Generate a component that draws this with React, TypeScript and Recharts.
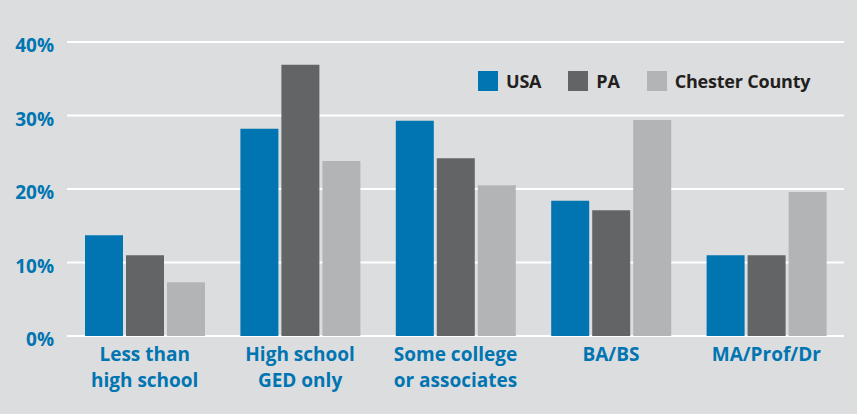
import React from 'react';
import { BarChart, Bar, XAxis, YAxis, CartesianGrid } from 'recharts';

// education level shares, percent
const categories = [
  'Less than\nhigh school',
  'High school\nGED only',
  'Some college\nor associates',
  'BA/BS',
  'MA/Prof/Dr',
];
const usa = [13.7, 28.2, 29.3, 18.4, 11.0];
const pa = [11.0, 36.9, 24.2, 17.1, 11.0];
const chester = [7.3, 23.8, 20.5, 29.4, 19.6];
const yTicks = [0, 10, 20, 30, 40];

const data = categories.map((name, i) => ({
  name,
  usa: usa[i],
  pa: pa[i],
  chester: chester[i],
}));

const BLUE = '#0075b1';
const FONT = '"Open Sans", sans-serif';

const series = [
  { key: 'usa', name: 'USA', color: BLUE },
  { key: 'pa', name: 'PA', color: '#636466' },
  { key: 'chester', name: 'Chester County', color: '#b3b4b6' },
];

const YTick = (props: any) => {
  const { x, y, payload } = props;
  return (
    <text x={x} y={y} dy={10} textAnchor="end" fill={BLUE} fontSize={19} fontWeight={700} fontFamily={FONT}>
      {payload.value}%
    </text>
  );
};

const XTick = (props: any) => {
  const { x, y, payload } = props;
  const lines = String(payload.value).split('\n');
  return (
    <text x={x} y={y} textAnchor="middle" fill={BLUE} fontSize={19} fontWeight={700} fontFamily={FONT}>
      {lines.map((l, i) => (
        <tspan key={i} x={x} dy={i === 0 ? 25 : 26}>
          {l}
        </tspan>
      ))}
    </text>
  );
};

const ChartLegend = () => (
  <div
    style={{
      position: 'absolute',
      top: 71,
      left: 478,
      display: 'flex',
      alignItems: 'center',
      fontFamily: FONT,
      fontSize: 18,
      fontWeight: 700,
      color: '#231f20',
    }}
  >
    {series.map((s) => (
      <div key={s.key} style={{ display: 'flex', alignItems: 'center', marginRight: 27 }}>
        <span style={{ display: 'inline-block', width: 20, height: 20, background: s.color, marginRight: 8 }} />
        <span style={{ lineHeight: '20px', letterSpacing: -0.2 }}>{s.name}</span>
      </div>
    ))}
  </div>
);

export default function App() {
  return (
    <div style={{ position: 'fixed', top: 0, left: 0, width: 857, height: 414, background: '#dcdddf' }}>
      <BarChart
        width={857}
        height={414}
        data={data}
        margin={{ top: 42, right: 13, left: 0, bottom: 0 }}
        barSize={38}
        barGap={3}
      >
        <CartesianGrid vertical={false} stroke="#ffffff" strokeWidth={2} />
        <XAxis
          dataKey="name"
          height={78}
          axisLine={false}
          tickLine={false}
          tickSize={0}
          tickMargin={0}
          interval={0}
          tick={<XTick />}
        />
        <YAxis
          width={67}
          domain={[0, 40]}
          ticks={yTicks}
          axisLine={false}
          tickLine={false}
          tickSize={0}
          tickMargin={13}
          tick={<YTick />}
        />
        {series.map((s) => (
          <Bar key={s.key} dataKey={s.key} name={s.name} fill={s.color} isAnimationActive={false} />
        ))}
      </BarChart>
      <ChartLegend />
    </div>
  );
}
